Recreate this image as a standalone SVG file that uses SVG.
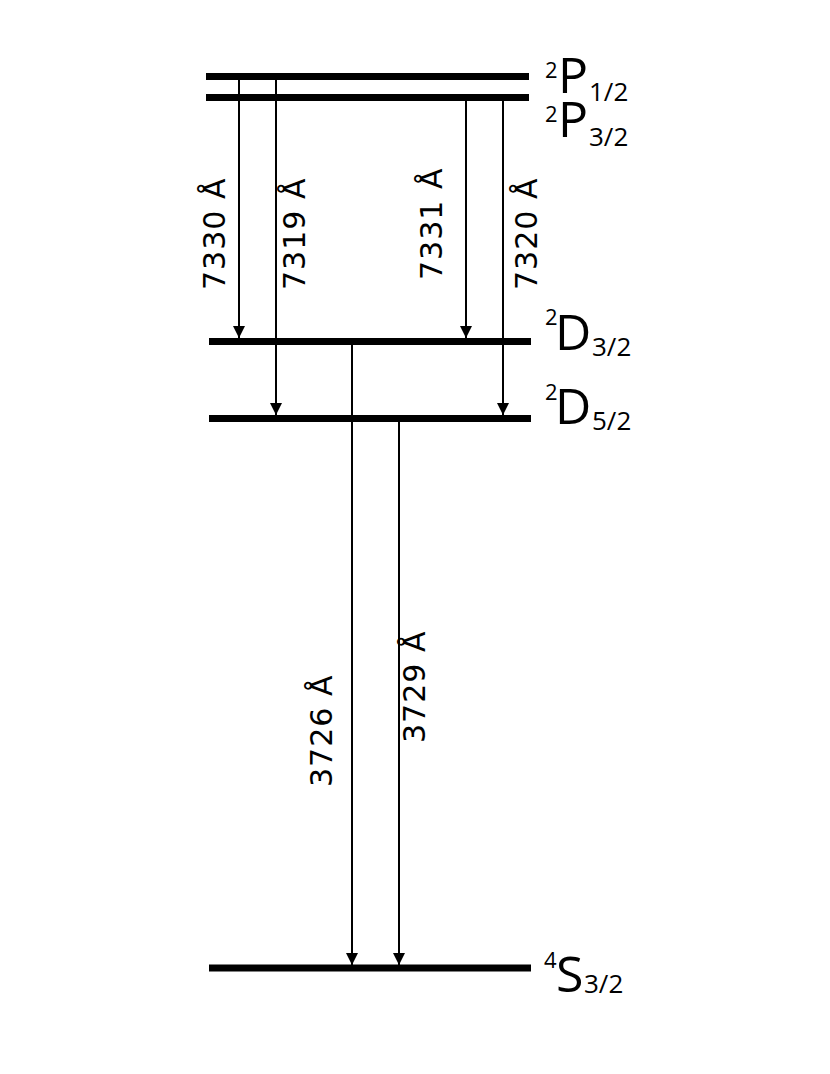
<svg xmlns="http://www.w3.org/2000/svg" width="830" height="1074" viewBox="0 0 830 1074">
<style>
.lvl{stroke:#000;stroke-width:7;fill:none}
.tr{stroke:#000;stroke-width:2;fill:none;marker-end:url(#ah)}
.wl{font-family:"DejaVu Sans",sans-serif;font-size:30px;letter-spacing:1px;fill:#000}
.big{font-family:"Open Sans","Noto Sans",sans-serif;font-size:50px;fill:#000}
.sup{font-family:"Open Sans","Noto Sans",sans-serif;font-size:22px;fill:#000}
.sub{font-family:"Open Sans","Noto Sans",sans-serif;font-size:26px;fill:#000}
</style>
<defs>
<marker id="ah" markerUnits="userSpaceOnUse" markerWidth="12" markerHeight="12" refX="12" refY="6" orient="auto" viewBox="0 0 12 12">
<path d="M0,0 L12,6 L0,12 z" fill="#000"/>
</marker>
</defs>
<rect width="830" height="1074" fill="#fff"/>
<g id="P12">
<line class="lvl" x1="206" y1="76.5" x2="529" y2="76.5"/>
<text class="sup" x="545" y="78">2</text><text class="big" x="558" y="93">P</text><text class="sub" x="589" y="101">1/2</text>
</g>
<g id="P32">
<line class="lvl" x1="206" y1="97.5" x2="529" y2="97.5"/>
<text class="sup" x="545" y="122">2</text><text class="big" x="558" y="137">P</text><text class="sub" x="589" y="146">3/2</text>
</g>
<g id="D32">
<line class="lvl" x1="209" y1="341.5" x2="531" y2="341.5"/>
<text class="sup" x="545" y="325">2</text><text class="big" x="555" y="350">D</text><text class="sub" x="592" y="356">3/2</text>
</g>
<g id="D52">
<line class="lvl" x1="209" y1="418.5" x2="531" y2="418.5"/>
<text class="sup" x="545" y="400">2</text><text class="big" x="555" y="424">D</text><text class="sub" x="592" y="430">5/2</text>
</g>
<g id="S32">
<line class="lvl" x1="209" y1="968" x2="531" y2="968"/>
<text class="sup" x="544" y="968">4</text><text class="big" x="556" y="992">S</text><text class="sub" x="584" y="993">3/2</text>
</g>
<g id="connectors">
<line class="tr" x1="239" y1="76" x2="239" y2="338"/>
<line class="tr" x1="276" y1="76" x2="276" y2="415"/>
<line class="tr" x1="466" y1="97" x2="466" y2="338"/>
<line class="tr" x1="503" y1="97" x2="503" y2="415"/>
<line class="tr" x1="352" y1="341" x2="352" y2="965"/>
<line class="tr" x1="399" y1="418" x2="399" y2="965"/>
<text class="wl" transform="translate(225,290) rotate(-90)">7330 Å</text>
<text class="wl" transform="translate(305,290) rotate(-90)">7319 Å</text>
<text class="wl" transform="translate(442,280) rotate(-90)">7331 Å</text>
<text class="wl" transform="translate(537,290) rotate(-90)">7320 Å</text>
<text class="wl" transform="translate(332,787) rotate(-90)">3726 Å</text>
<text class="wl" transform="translate(425,743) rotate(-90)">3729 Å</text>
</g>
</svg>
